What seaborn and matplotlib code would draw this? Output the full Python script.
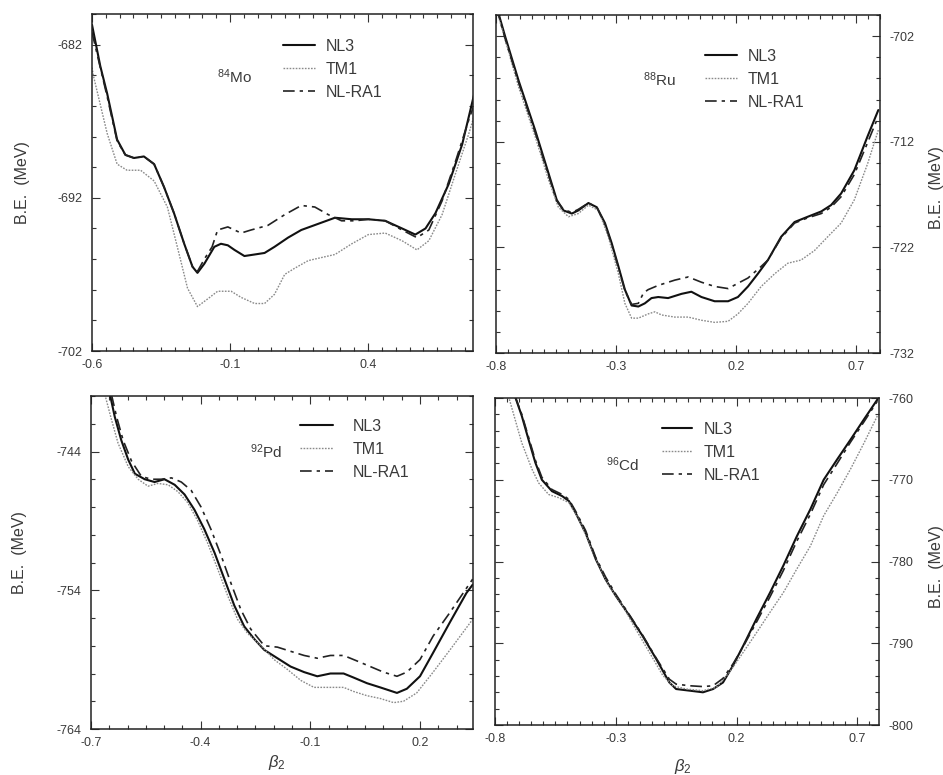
import numpy as np
import pandas as pd
import matplotlib
matplotlib.use("Agg")
import matplotlib.pyplot as plt
from matplotlib.ticker import MultipleLocator
import seaborn as sns

# ---------------- data ----------------
models = ["NL3", "TM1", "NL-RA1"]

# 84Mo
mo_nl3_b = [-0.6, -0.570, -0.545, -0.509, -0.479, -0.448, -0.412, -0.375, -0.339, -0.303, -0.266, -0.236, -0.218,
            -0.193, -0.157, -0.133, -0.108, -0.084, -0.048, -0.011, 0.025, 0.061, 0.110, 0.158, 0.219, 0.280, 0.341,
            0.401, 0.462, 0.523, 0.571, 0.608, 0.644, 0.692, 0.741, 0.790]
mo_nl3_e = [-680.7, -683.4, -685.2, -688.2, -689.2, -689.4, -689.3, -689.8, -691.3, -693.0, -695.0, -696.5, -696.9,
            -696.3, -695.2, -695.0, -695.1, -695.4, -695.8, -695.7, -695.6, -695.2, -694.6, -694.1, -693.7, -693.3,
            -693.4, -693.4, -693.5, -694.0, -694.4, -694.0, -693.0, -691.1, -688.5, -684.8]
mo_tm1_b = [-0.6, -0.594, -0.545, -0.509, -0.473, -0.424, -0.375, -0.327, -0.291, -0.254, -0.218, -0.181, -0.145,
            -0.096, -0.060, -0.011, 0.025, 0.061, 0.098, 0.134, 0.183, 0.231, 0.280, 0.341, 0.401, 0.462, 0.523,
            0.577, 0.620, 0.668, 0.717, 0.765, 0.790]
mo_tm1_e = [-683.5, -684.1, -687.8, -689.8, -690.2, -690.2, -690.9, -692.6, -695.2, -697.9, -699.1, -698.6, -698.1,
            -698.1, -698.5, -698.9, -698.9, -698.3, -697.0, -696.6, -696.1, -695.9, -695.7, -695.0, -694.4, -694.3,
            -694.8, -695.4, -694.8, -693.1, -690.4, -687.8, -686.3]
mo_ra1_b = [-0.6, -0.545, -0.509, -0.479, -0.448, -0.412, -0.375, -0.339, -0.303, -0.266, -0.236, -0.218, -0.193,
            -0.165, -0.145, -0.108, -0.060, -0.024, 0.037, 0.098, 0.158, 0.207, 0.256, 0.304, 0.353, 0.401, 0.462,
            0.523, 0.577, 0.620, 0.668, 0.717, 0.765, 0.790]
mo_ra1_e = [-681.2, -685.4, -688.3, -689.2, -689.4, -689.3, -689.8, -691.3, -693.0, -695.0, -696.5, -696.8, -696.0,
            -695.2, -694.1, -693.9, -694.3, -694.1, -693.8, -693.1, -692.5, -692.6, -693.1, -693.5, -693.5, -693.4,
            -693.5, -694.1, -694.6, -694.1, -692.2, -689.6, -686.9, -685.6]

# 88Ru
ru_nl3_b = [-0.800, -0.789, -0.761, -0.706, -0.637, -0.581, -0.547, -0.519, -0.484, -0.457, -0.415, -0.380, -0.346,
            -0.318, -0.290, -0.263, -0.235, -0.207, -0.180, -0.152, -0.124, -0.083, -0.027, 0.014, 0.056, 0.111,
            0.167, 0.208, 0.250, 0.291, 0.333, 0.388, 0.444, 0.499, 0.555, 0.596, 0.638, 0.693, 0.748, 0.793]
ru_nl3_e = [-699.3, -699.9, -702.1, -706.2, -710.9, -715.0, -717.5, -718.5, -718.8, -718.5, -717.8, -718.2, -719.7,
            -721.6, -723.8, -726.0, -727.5, -727.6, -727.3, -726.8, -726.7, -726.8, -726.4, -726.2, -726.7, -727.1,
            -727.1, -726.7, -725.7, -724.5, -723.2, -721.0, -719.6, -719.1, -718.6, -718.0, -716.9, -714.7, -711.5,
            -709.0]
ru_tm1_b = [-0.800, -0.789, -0.706, -0.637, -0.581, -0.540, -0.498, -0.457, -0.415, -0.373, -0.332, -0.290, -0.263,
            -0.235, -0.207, -0.166, -0.138, -0.110, -0.055, 0.001, 0.056, 0.111, 0.167, 0.208, 0.250, 0.305, 0.361,
            0.416, 0.471, 0.527, 0.582, 0.638, 0.693, 0.748, 0.793]
ru_tm1_e = [-699.6, -700.2, -706.8, -711.5, -715.6, -718.2, -719.1, -718.8, -718.0, -718.5, -721.0, -724.5, -727.3,
            -728.7, -728.7, -728.3, -728.1, -728.4, -728.6, -728.6, -728.9, -729.1, -729.0, -728.3, -727.3, -725.7,
            -724.5, -723.5, -723.2, -722.3, -721.0, -719.7, -717.5, -714.1, -710.9]
ru_ra1_b = [-0.800, -0.789, -0.761, -0.706, -0.637, -0.581, -0.547, -0.519, -0.484, -0.457, -0.415, -0.380, -0.346,
            -0.318, -0.290, -0.263, -0.235, -0.207, -0.185, -0.166, -0.124, -0.055, 0.001, 0.056, 0.111, 0.167,
            0.208, 0.250, 0.305, 0.333, 0.388, 0.444, 0.499, 0.555, 0.596, 0.638, 0.693, 0.748, 0.793]
ru_ra1_e = [-699.4, -700.0, -702.3, -706.4, -711.1, -715.2, -717.6, -718.4, -718.7, -718.4, -717.8, -718.2, -719.8,
            -721.7, -723.9, -726.1, -727.4, -727.3, -726.3, -726.0, -725.6, -725.1, -724.8, -725.3, -725.7, -725.9,
            -725.4, -724.9, -723.8, -723.2, -721.1, -719.7, -719.2, -718.8, -718.2, -717.2, -715.1, -712.1, -709.6]

# 92Pd
pd_nl3_b = [-0.648, -0.635, -0.617, -0.598, -0.580, -0.553, -0.526, -0.499, -0.471, -0.444, -0.417, -0.390, -0.362,
            -0.335, -0.308, -0.281, -0.254, -0.226, -0.190, -0.154, -0.117, -0.081, -0.045, -0.009, 0.019, 0.055,
            0.091, 0.137, 0.164, 0.200, 0.236, 0.282, 0.327, 0.344]
pd_nl3_e = [-739.9, -741.5, -743.2, -744.6, -745.6, -746.0, -746.2, -746.0, -746.4, -747.1, -748.2, -749.6, -751.3,
            -753.2, -755.1, -756.6, -757.5, -758.3, -758.9, -759.5, -759.9, -760.2, -760.0, -760.0, -760.3, -760.7,
            -761.0, -761.4, -761.1, -760.2, -758.5, -756.3, -754.2, -753.6]
pd_tm1_b = [-0.662, -0.644, -0.626, -0.598, -0.571, -0.544, -0.517, -0.489, -0.462, -0.435, -0.408, -0.381, -0.353,
            -0.326, -0.299, -0.272, -0.235, -0.199, -0.163, -0.126, -0.090, -0.054, -0.009, 0.019, 0.055, 0.091,
            0.128, 0.155, 0.191, 0.236, 0.282, 0.344]
pd_tm1_e = [-739.9, -741.7, -743.4, -745.1, -746.0, -746.5, -746.3, -746.4, -746.9, -747.7, -749.0, -750.6, -752.5,
            -754.4, -756.1, -757.1, -758.0, -759.0, -759.7, -760.5, -761.0, -761.0, -761.0, -761.3, -761.6, -761.8,
            -762.1, -762.0, -761.4, -759.9, -758.3, -756.1]
pd_ra1_b = [-0.644, -0.630, -0.612, -0.589, -0.562, -0.535, -0.508, -0.480, -0.453, -0.426, -0.399, -0.372, -0.344,
            -0.317, -0.290, -0.263, -0.226, -0.190, -0.154, -0.117, -0.081, -0.045, -0.009, 0.028, 0.064, 0.100,
            0.137, 0.164, 0.200, 0.236, 0.282, 0.344]
pd_ra1_e = [-739.9, -741.5, -743.2, -744.7, -745.8, -746.0, -746.0, -745.9, -746.2, -746.8, -748.0, -749.6, -751.5,
            -753.5, -755.4, -756.8, -758.0, -758.1, -758.4, -758.7, -758.9, -758.7, -758.7, -759.1, -759.5, -759.9,
            -760.2, -759.9, -759.0, -757.3, -755.6, -753.2]

# 96Cd
cd_nl3_b = [-0.717, -0.689, -0.661, -0.633, -0.606, -0.564, -0.522, -0.494, -0.467, -0.425, -0.383, -0.342, -0.300,
            -0.244, -0.189, -0.133, -0.078, -0.050, 0.006, 0.061, 0.103, 0.144, 0.186, 0.228, 0.283, 0.339, 0.394,
            0.450, 0.506, 0.561, 0.617, 0.672, 0.728, 0.783]
cd_nl3_e = [-759.8, -762.2, -765.1, -767.9, -770.0, -771.4, -772.0, -772.6, -774.0, -776.5, -779.7, -782.2, -784.2,
            -786.6, -789.1, -791.9, -794.8, -795.6, -795.8, -796.0, -795.6, -794.8, -792.7, -790.3, -787.0, -783.8,
            -780.5, -776.9, -773.6, -770.0, -767.5, -765.1, -762.6, -760.2]
cd_tm1_b = [-0.744, -0.717, -0.689, -0.647, -0.619, -0.578, -0.536, -0.494, -0.453, -0.411, -0.369, -0.328, -0.272,
            -0.217, -0.161, -0.106, -0.064, -0.008, 0.061, 0.117, 0.172, 0.228, 0.283, 0.339, 0.394, 0.450, 0.506,
            0.561, 0.617, 0.672, 0.728, 0.783]
cd_tm1_e = [-759.8, -762.6, -765.5, -768.7, -770.4, -771.8, -772.2, -772.8, -774.8, -777.7, -780.5, -783.0, -785.4,
            -788.3, -791.1, -793.9, -795.2, -795.6, -795.8, -795.4, -793.5, -791.1, -788.7, -786.2, -783.8, -780.9,
            -778.1, -774.4, -771.6, -768.7, -765.5, -762.2]
cd_ra1_b = [-0.717, -0.689, -0.661, -0.633, -0.606, -0.564, -0.522, -0.494, -0.467, -0.425, -0.383, -0.342, -0.300,
            -0.244, -0.189, -0.133, -0.078, -0.050, 0.006, 0.061, 0.103, 0.144, 0.186, 0.228, 0.283, 0.339, 0.394,
            0.450, 0.506, 0.561, 0.617, 0.672, 0.728, 0.783]
cd_ra1_e = [-759.8, -762.0, -764.8, -767.6, -769.7, -771.2, -771.8, -772.4, -773.8, -776.2, -779.5, -781.9, -784.0,
            -786.5, -789.0, -791.8, -794.4, -795.0, -795.2, -795.3, -795.2, -794.3, -792.5, -790.4, -787.4, -784.3,
            -781.1, -777.5, -774.2, -770.6, -768.0, -765.4, -762.9, -760.4]

isotopes = [r"$^{84}$Mo", r"$^{88}$Ru", r"$^{92}$Pd", r"$^{96}$Cd"]
xlims = [(-0.6, 0.78), (-0.8, 0.8), (-0.7, 0.345), (-0.8, 0.79)]
ylims = [(-702, -680), (-732, -700), (-764, -740), (-800, -760)]
xticks = [[-0.6, -0.1, 0.4], [-0.8, -0.3, 0.2, 0.7], [-0.7, -0.4, -0.1, 0.2], [-0.8, -0.3, 0.2, 0.7]]
yticks = [[-702, -692, -682], [-732, -722, -712, -702], [-764, -754, -744], [-800, -790, -780, -770, -760]]

series = [
    [(mo_nl3_b, mo_nl3_e), (mo_tm1_b, mo_tm1_e), (mo_ra1_b, mo_ra1_e)],
    [(ru_nl3_b, ru_nl3_e), (ru_tm1_b, ru_tm1_e), (ru_ra1_b, ru_ra1_e)],
    [(pd_nl3_b, pd_nl3_e), (pd_tm1_b, pd_tm1_e), (pd_ra1_b, pd_ra1_e)],
    [(cd_nl3_b, cd_nl3_e), (cd_tm1_b, cd_tm1_e), (cd_ra1_b, cd_ra1_e)],
]

# ---------------- style ----------------
sns.set_style("ticks")
plt.rcParams["font.family"] = ["Liberation Sans", "DejaVu Sans"]
plt.rcParams["axes.unicode_minus"] = False
plt.rcParams["mathtext.fontset"] = "custom"
plt.rcParams["mathtext.rm"] = "Liberation Sans"
plt.rcParams["mathtext.it"] = "Liberation Sans:italic"

TXT = "#3a3a3a"
W, H = 943, 775
fig = plt.figure(figsize=(W / 100, H / 100), dpi=100)

def fx(px):
    return px / W

def fy(py):
    return 1 - py / H

# axes boxes in pixels: left, top, right, bottom
boxes = [(92, 14, 473, 351), (496, 15, 880, 353), (91, 396, 473, 729), (495, 398, 879, 725)]
styles = [dict(color="#111111", lw=1.5, linestyle="-"),
          dict(color="#8a8a8a", lw=1.0, linestyle=(0, (1.2, 1.0))),
          dict(color="#222222", lw=1.2, linestyle=(0, (7, 3, 2, 3)))]
# legend: x of handle start, top y, handlelength, handletextpad
legpos = [(283, 39, 2.0, 0.65), (705, 49, 2.0, 0.65), (300, 419, 2.05, 1.25), (662, 422, 1.9, 0.7)]
isopos = [(234, 77), (660, 80), (266, 452), (622, 465)]

for i, (l, t, r, b) in enumerate(boxes):
    ax = fig.add_axes([fx(l), fy(b), fx(r - l), (b - t) / H])
    for m, (bx, be), st in zip(models, series[i], styles):
        df = pd.DataFrame({"beta": bx, "BE": be})
        sns.lineplot(data=df, x="beta", y="BE", ax=ax, label=m, sort=False, estimator=None, **st)
    ax.set_xlim(*xlims[i])
    ax.set_ylim(*ylims[i])
    ax.set_xticks(xticks[i])
    ax.set_yticks(yticks[i])
    ax.set_xticklabels([f"{v:.1f}" for v in xticks[i]])
    ax.set_yticklabels([f"{v:d}" for v in yticks[i]])
    ax.xaxis.set_minor_locator(MultipleLocator(0.05))
    ax.yaxis.set_minor_locator(MultipleLocator(2))
    right = i in (1, 3)
    ax.tick_params(which="both", direction="in", top=True, bottom=True, left=True, right=True,
                   labelleft=not right, labelright=right, color="#333333", width=0.8)
    ax.tick_params(which="major", length=6)
    ax.tick_params(which="minor", length=3)
    ax.tick_params(axis="y", which="major", pad=7, labelsize=9, labelcolor=TXT)
    ax.tick_params(axis="x", which="major", pad=6, labelsize=9, labelcolor=TXT)
    for s in ax.spines.values():
        s.set_visible(True)
        s.set_color("#222222")
        s.set_linewidth(1.1)
    ax.set_xlabel("")
    ax.set_ylabel("")
    lx, ly, hl, tp = legpos[i]
    ax.legend(loc="upper left", bbox_to_anchor=(fx(lx), fy(ly)), bbox_transform=fig.transFigure,
              frameon=False, fontsize=11.5, handlelength=hl, handletextpad=tp, labelspacing=0.5,
              borderpad=0, borderaxespad=0, labelcolor=TXT)
    ix, iy = isopos[i]
    fig.text(fx(ix), fy(iy), isotopes[i], ha="center", va="center", fontsize=11, color=TXT)

# axis titles
for (x, y) in [(23, 183), (20, 553), (937, 188), (937, 567)]:
    fig.text(fx(x), fy(y), "B.E.  (MeV)", rotation=90, ha="center", va="center", fontsize=11.5, color=TXT)
for (x, y) in [(277, 763), (683, 766)]:
    fig.text(fx(x), fy(y), r"$\beta_2$", ha="center", va="center", fontsize=12, color=TXT)

fig.savefig("out.png", dpi=100, facecolor="white")
